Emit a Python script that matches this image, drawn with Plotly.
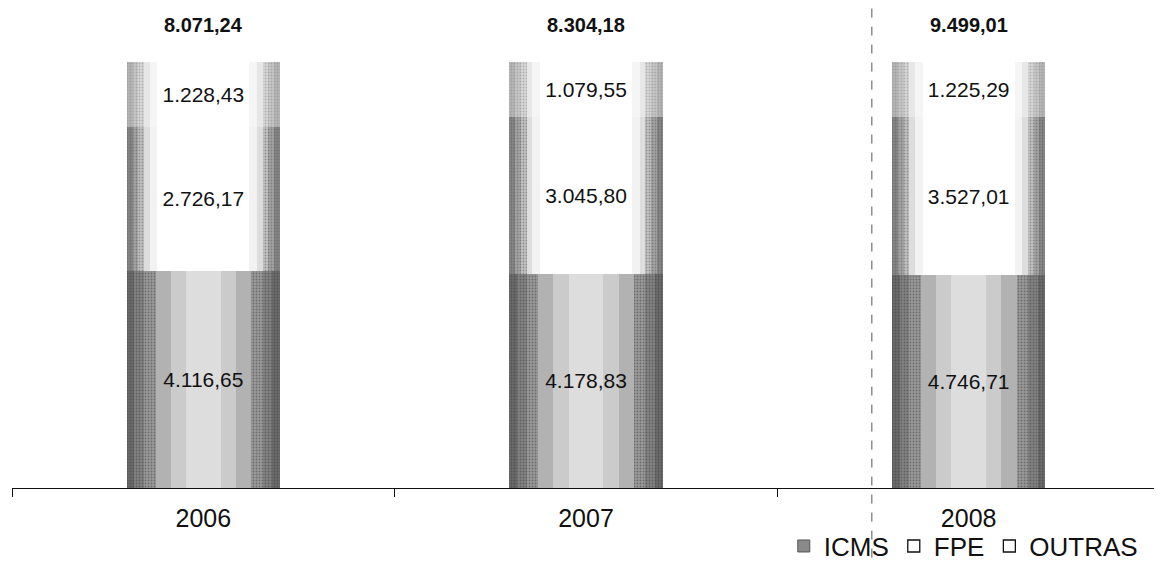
import plotly.graph_objects as go

# ---------------- data ----------------
years = ["2006", "2007", "2008"]
icms = [4116.65, 4178.83, 4746.71]
fpe = [2726.17, 3045.80, 3527.01]
outras = [1228.43, 1079.55, 1225.29]
totals = [8071.24, 8304.18, 9499.01]
series_names = ["ICMS", "FPE", "OUTRAS"]


def br(v):
    s = f"{v:,.2f}"
    return s.replace(",", "X").replace(".", ",").replace("X", ".")


series = [icms, fpe, outras]

# layered fills to mimic the scanned gradient (edge -> centre)
LAYERS = {
    "ICMS": [(0.40, "#6a6a6a"), (0.36, "#828282"), (0.31, "#9a9a9a"),
             (0.25, "#b2b2b2"), (0.17, "#cbcbcb"), (0.09, "#dddddd")],
    "FPE": [(0.40, "#858585"), (0.37, "#a3a3a3"), (0.34, "#c2c2c2"),
            (0.31, "#dddddd"), (0.28, "#f2f2f2"), (0.24, "#ffffff")],
    "OUTRAS": [(0.40, "#b5b5b5"), (0.37, "#c6c6c6"), (0.34, "#d7d7d7"),
               (0.31, "#e7e7e7"), (0.28, "#f5f5f5"), (0.24, "#ffffff")],
}
GRAIN = {"ICMS": "#3e3e3e", "FPE": "#5a5a5a", "OUTRAS": "#8a8a8a"}

FONT = "Liberation Sans, Arial, sans-serif"
N_LAYERS = 6

fig = go.Figure()
axes = ["x"] + [f"x{i}" for i in range(2, N_LAYERS + 1)]
for li, ax in enumerate(axes):
    for name, vals in zip(series_names, series):
        w, c = LAYERS[name][li]
        marker = dict(color=c, line=dict(width=0))
        if li <= 2:
            marker["pattern"] = dict(shape=".", fgcolor=GRAIN[name], bgcolor=c,
                                     size=3, solidity=0.3)
        fig.add_trace(go.Bar(
            x=years, y=vals, xaxis=ax, yaxis="y", width=w, name=name,
            marker=marker, showlegend=False, hoverinfo="skip"))

# text layer
text_ax = f"x{N_LAYERS + 1}"
for name, vals in zip(series_names, series):
    fig.add_trace(go.Bar(
        x=years, y=vals, xaxis=text_ax, yaxis="y", width=0.40, name=name,
        marker=dict(color="rgba(0,0,0,0)", line=dict(width=0)),
        text=[br(v) for v in vals], textposition="inside",
        insidetextanchor="middle", constraintext="none", textangle=0,
        textfont=dict(family=FONT, size=21, color="#111111"),
        showlegend=False, hoverinfo="skip"))

# legend entries
legend_style = {
    "ICMS": dict(color="#8a8a8a", line=dict(color="#555555", width=1)),
    "FPE": dict(color="#ffffff", line=dict(color="#111111", width=1.3)),
    "OUTRAS": dict(color="#ffffff", line=dict(color="#111111", width=1.3)),
}
for name in series_names:
    fig.add_trace(go.Scatter(
        x=[None], y=[None], mode="markers", name=name,
        marker=dict(symbol="square", size=12, **legend_style[name]),
        showlegend=True, hoverinfo="skip"))

# totals above bars (category index positions)
for i, t in enumerate(totals):
    fig.add_annotation(x=i, y=100, xref="x", yref="y", yshift=37,
                       text=f"<b>{br(t)}</b>", showarrow=False,
                       font=dict(family=FONT, size=20, color="#111111"))

# scan fold line
fig.add_shape(type="line", xref="paper", yref="paper",
              x0=0.749, x1=0.749, y0=-0.145, y1=1.02,
              line=dict(color="#555555", width=1, dash="dash"))

fig.update_layout(
    width=1154, height=553,
    margin=dict(l=4, r=2, t=0, b=73, autoexpand=False),
    paper_bgcolor="white", plot_bgcolor="white",
    barmode="stack", barnorm="percent",
    font=dict(family=FONT, color="#111111"),
    xaxis=dict(type="category", categoryarray=years, range=[-0.5, 2.5],
               tickson="boundaries", ticks="outside", ticklen=8,
               tickcolor="#111111", showline=True, linecolor="#111111",
               linewidth=1, showgrid=False, zeroline=False,
               ticklabelstandoff=8,
               tickfont=dict(family=FONT, size=25, color="#111111")),
    yaxis=dict(range=[0, 112.68], visible=False, showgrid=False,
               zeroline=False),
    legend=dict(orientation="h", x=0.985, xanchor="right", y=-0.121,
                yanchor="middle", font=dict(family=FONT, size=26,
                                            color="#111111"),
                traceorder="normal", itemwidth=30, bgcolor="rgba(0,0,0,0)"),
    showlegend=True,
)
for i in range(2, N_LAYERS + 2):
    fig.update_layout({f"xaxis{i}": dict(overlaying="x", visible=False,
                                         type="category", range=[-0.5, 2.5],
                                         categoryarray=years)})

fig.write_html("out.html")
